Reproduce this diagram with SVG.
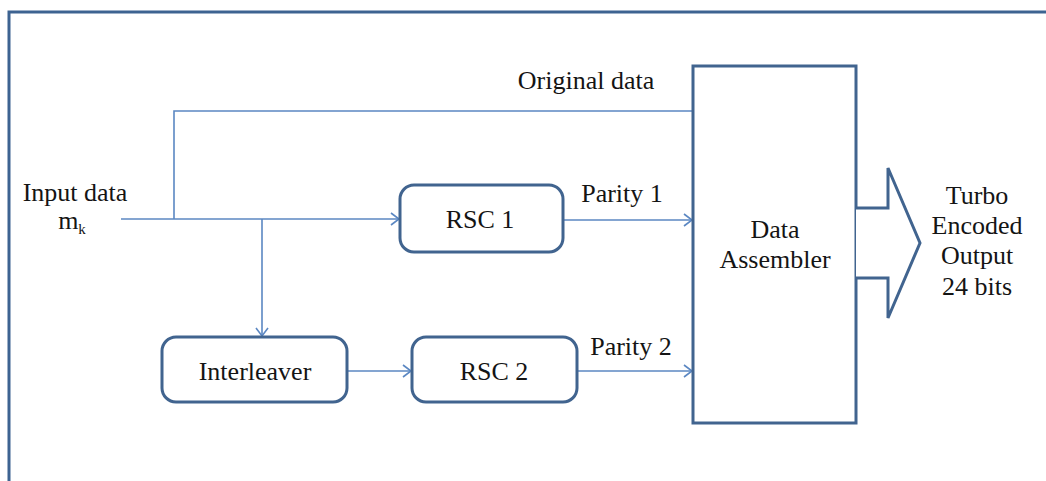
<svg xmlns="http://www.w3.org/2000/svg" width="1046" height="481" viewBox="0 0 1046 481">
<style>
.box{fill:#ffffff;stroke:#41648f;stroke-width:3}
.conn{fill:none;stroke:#5b87c2;stroke-width:1.6}
text{font-family:'Liberation Serif','Times New Roman',serif;font-size:26px;fill:#141414;text-anchor:middle}
</style>
<defs>
<marker id="arr" markerUnits="userSpaceOnUse" markerWidth="12" markerHeight="14" refX="9" refY="7" orient="auto">
<path d="M1,1 L9,7 L1,13" fill="none" stroke="#5b87c2" stroke-width="1.6"/>
</marker>
</defs>
<rect width="1046" height="481" fill="#ffffff"/>
<path d="M9,485 V12 H1050" fill="none" stroke="#3d6391" stroke-width="3"/>
<g id="connectors">
<path class="conn" d="M121,219 H399" marker-end="url(#arr)"/>
<path class="conn" d="M174,219 V111 H693"/>
<path class="conn" d="M262,219 V336" marker-end="url(#arr)"/>
<path class="conn" d="M563,220 H692" marker-end="url(#arr)"/>
<path class="conn" d="M347,371 H411" marker-end="url(#arr)"/>
<path class="conn" d="M577,371 H692" marker-end="url(#arr)"/>
</g>
<g id="input-label">
<text x="75" y="201">Input data</text>
<text x="72" y="229">m<tspan font-size="15" dy="5">k</tspan></text>
</g>
<g id="edge-labels">
<text x="586" y="89">Original data</text>
<text x="622" y="202">Parity 1</text>
<text x="631" y="355">Parity 2</text>
</g>
<g id="rsc1">
<rect class="box" x="400" y="185" width="163" height="67" rx="14"/>
<text x="480" y="228">RSC 1</text>
</g>
<g id="interleaver">
<rect class="box" x="162" y="337" width="185" height="65" rx="14"/>
<text x="255" y="380">Interleaver</text>
</g>
<g id="rsc2">
<rect class="box" x="412" y="337" width="165" height="65" rx="14"/>
<text x="494" y="380">RSC 2</text>
</g>
<g id="data-assembler">
<rect class="box" x="693" y="66" width="163" height="357"/>
<text x="775" y="238">Data</text>
<text x="775" y="268">Assembler</text>
</g>
<g id="output-arrow">
<path d="M856,208 H888 V168 L920,243 L888,318 V278 H856" fill="#ffffff" stroke="#41648f" stroke-width="3"/>
</g>
<g id="output-label">
<text x="977" y="204">Turbo</text>
<text x="977" y="234">Encoded</text>
<text x="977" y="264">Output</text>
<text x="977" y="295">24 bits</text>
</g>
</svg>
